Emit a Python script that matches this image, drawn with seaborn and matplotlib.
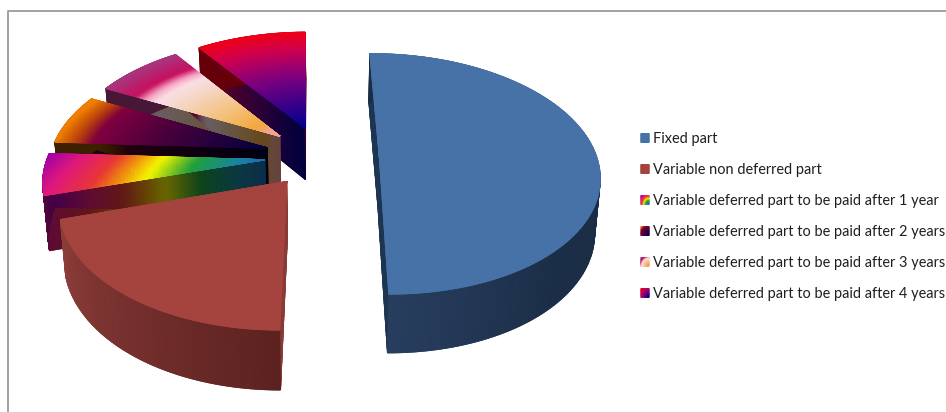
"""Exploded 3D pie of the pay components, drawn with quad meshes"""

import numpy as np
import matplotlib.pyplot as plt
import seaborn as sns
from matplotlib.collections import LineCollection

OUTPUT_FILE = "out.png"

# Chart data
labels = [
    "Fixed part",
    "Variable non deferred part",
    "Variable deferred part to be paid after 1 year",
    "Variable deferred part to be paid after 2 years",
    "Variable deferred part to be paid after 3 years",
    "Variable deferred part to be paid after 4 years",
]
shares = [50.2, 20.3, 5.5, 6.7, 7.7, 9.6]

# Colour stops, centre of the slice first
top_stops = [
    ["#4672A8", "#4672A8"],
    ["#A5433F", "#A5433F"],
    ["#1E6CB0", "#1A86A0", "#20A040", "#F8F800", "#F09010", "#E83838", "#E01880", "#A000A8"],
    ["#000040", "#48003C", "#800040", "#B84010", "#F08000"],
    ["#F0A090", "#F0A890", "#F4A840", "#F5BD70", "#F5D5C0", "#FAE0E8", "#F8A0C0", "#C81060", "#A83880"],
    ["#000090", "#800080", "#D00050", "#F00018"],
]
stop_positions = [
    [0, 1],
    [0, 1],
    [0, 0.15, 0.35, 0.55, 0.68, 0.8, 1.0, 1.18],
    [0, 0.5, 0.82, 0.9, 1],
    [0, 0.07, 0.14, 0.3, 0.55, 0.7, 0.76, 0.82, 1],
    [0, 0.5, 0.8, 1],
]
wall_stops = [
    ["#1A2D45", "#1A2D45", "#1A2D45", "#1B2E47", "#283E5E"],
    ["#5C2220", "#8E3E3A"],
    None, None, None, None,
]
face_colors = ["#1D3550", "#8A3A36", None, None, None, None]

# Layout, in pixels of the 946x412 picture
VX, VY = 322.0, 156.0
RX, RY = 217.0, 117.5
PERSPECTIVE = 0.15
EXPLODE = 0.264
DROP, DROP_SLOPE = 53.3, 5.46
SHRINK = 0.98
START_ANGLE = -0.6
DARKEN = [0.42, 0.42, 0.42, 0.25, 0.42, 0.42]
ANGLE_TILT = [0, 0, 0.18, 0.03, 0, 0]
LEGEND_X = 641
LEGEND_Y = [138, 169, 200, 231, 262, 293]
ICON_W, ICON_H = 8, 9


def stop_cmap(colors, positions, dark=1.0):
    # resample the stops evenly so blend_palette can build the map
    rgb = np.array(sns.color_palette(colors, len(colors)))
    pos = np.array(positions, dtype=float) / positions[-1]
    grid = np.linspace(0, 1, 64)
    table = np.column_stack([np.interp(grid, pos, rgb[:, i]) for i in range(3)]) * dark
    return sns.blend_palette([tuple(c) for c in table], n_colors=256, as_cmap=True)


def project(x, y, bottom=False):
    s = 1 / (1 - PERSPECTIVE * y)
    px = VX + RX * x * s
    py = VY + RY * y * s
    if bottom:
        px = VX + SHRINK * (px - VX)
        py = py + DROP + DROP_SLOPE * y
    return px, py


def world(theta, r, cx, cy):
    rad = np.radians(theta)
    return cx + r * np.sin(rad), cy - r * np.cos(rad)


def soft_edge(ax, px, py, values, cmap, vmax):
    # gouraud meshes have hard edges, an antialiased line smooths them
    pts = np.column_stack([px, py]).reshape(-1, 1, 2)
    segs = np.concatenate([pts[:-1], pts[1:]], axis=1)
    lc = LineCollection(segs, cmap=cmap, linewidths=0.8, zorder=1)
    lc.set_array((values[:-1] + values[1:]) / 2)
    lc.set_clim(0, vmax)
    ax.add_collection(lc)


def extruded(ax, x, y, values, cmap, vmax=1.0):
    # one band of wall between the top and the bottom outline
    tx, ty = project(x, y)
    bx, by = project(x, y, bottom=True)
    ax.pcolormesh(np.vstack([tx, bx]), np.vstack([ty, by]), np.vstack([values, values]),
                  cmap=cmap, vmin=0, vmax=vmax, shading="gouraud")
    soft_edge(ax, bx, by, values, cmap, vmax)


sns.set_theme(style="white")
plt.rcParams["font.family"] = ["Lato", "DejaVu Sans"]

fig = plt.figure(figsize=(9.46, 4.12), dpi=100)
ax = fig.add_axes([0, 0, 1, 1])
ax.set_xlim(0, 946)
ax.set_ylim(412, 0)
ax.axis("off")

# Chart frame: only the top and left lines are inside the crop
ax.plot([8.2, 8.2, 946], [412, 11, 11], color="#9A9A9A", lw=1.3)

edges = START_ANGLE + np.concatenate([[0], np.cumsum(shares)]) * 3.6 * 100 / sum(shares)
order = [5, 4, 3, 2, 1, 0]
cmaps = []
for stops, pos in zip(top_stops, stop_positions):
    cmaps.append(stop_cmap(stops, pos))

for i in order:
    a0, a1 = edges[i], edges[i + 1]
    mid = (a0 + a1) / 2
    cx, cy = world(mid, EXPLODE, 0, 0)
    vmax = stop_positions[i][-1]
    tilt = ANGLE_TILT[i]
    top_cmap = cmaps[i]
    dark_cmap = stop_cmap(top_stops[i], stop_positions[i], DARKEN[i])

    # radial faces
    radii = np.linspace(0, 1, 40)
    for angle, frac in ((a0, 0), (a1, 1)):
        x, y = world(angle, radii, cx, cy)
        t = radii * (1 + tilt * frac)
        if face_colors[i]:
            flat = sns.blend_palette([face_colors[i], face_colors[i]], as_cmap=True)
            extruded(ax, x, y, t, flat, vmax)
        else:
            extruded(ax, x, y, t, dark_cmap, vmax)

    # outer wall
    thetas = np.linspace(a0, a1, 120)
    x, y = world(thetas, 1.0, cx, cy)
    frac = (thetas - a0) / (a1 - a0)
    if wall_stops[i]:
        wall_cmap = sns.blend_palette(wall_stops[i], as_cmap=True)
        extruded(ax, x, y, frac, wall_cmap)
    else:
        extruded(ax, x, y, 1 + tilt * frac, dark_cmap, vmax)

    # top face
    rr, tt = np.meshgrid(np.linspace(0, 1, 60), thetas)
    x, y = world(tt, rr, cx, cy)
    px, py = project(x, y)
    t = rr * (1 + tilt * (tt - a0) / (a1 - a0))
    ax.pcolormesh(px, py, t, cmap=top_cmap, vmin=0, vmax=vmax, shading="gouraud")
    soft_edge(ax, px[:, -1], py[:, -1], t[:, -1], top_cmap, vmax)
    soft_edge(ax, px[0], py[0], t[0], top_cmap, vmax)
    soft_edge(ax, px[-1], py[-1], t[-1], top_cmap, vmax)

# Legend
for i, (label, ly) in enumerate(zip(labels, LEGEND_Y)):
    u = np.linspace(0, 1, 12)
    gx, gy = np.meshgrid(u, u)
    # centre of the icon's gradient sits in its lower right corner
    t = np.hypot(1 - gx, 1 - gy) / 1.3 * stop_positions[i][-1]
    ax.pcolormesh(LEGEND_X + ICON_W * gx, ly - ICON_H / 2 + ICON_H * gy, t, cmap=cmaps[i],
                  vmin=0, vmax=stop_positions[i][-1], shading="gouraud")
    ax.text(LEGEND_X + 12, ly + 1, label, fontsize=10.45, color="#1F1F1F", va="center", ha="left")

fig.savefig(OUTPUT_FILE, dpi=100)
plt.close(fig)
